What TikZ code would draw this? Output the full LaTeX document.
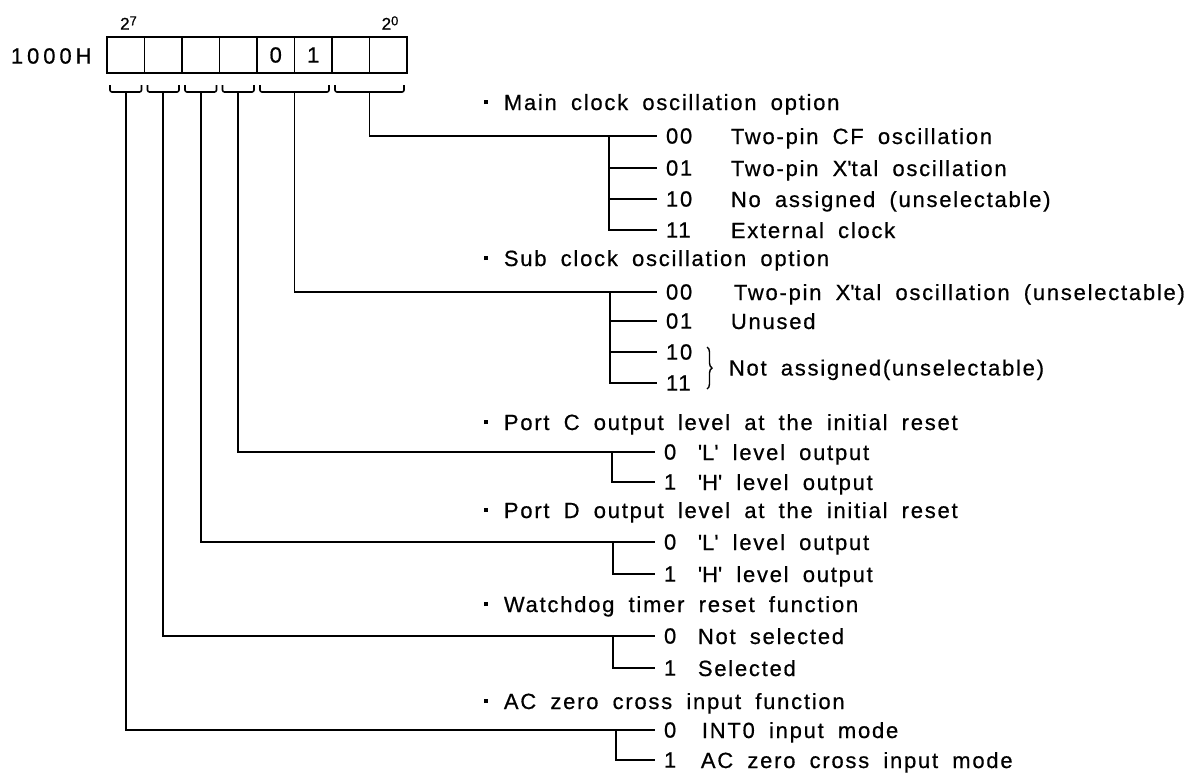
\documentclass[tikz,border=0pt]{standalone}
\usepackage{fontspec}
\setmainfont{Liberation Sans}[LetterSpace=8,WordSpace=1.8,FakeBold=0.6]
\usetikzlibrary{positioning,calc,decorations.pathreplacing}
\newcommand{\optdot}{\makebox[10pt][l]{\raisebox{2.9pt}{\rule{2pt}{2pt}}}}
\newcommand{\apos}{\textquotesingle}
\newcommand{\bitpow}[1]{2\raisebox{2.2pt}{\fontsize{6.5}{7}\selectfont #1}}
\begin{document}
\begin{tikzpicture}[
  x=0.5pt, y=-0.5pt,
  font=\fontsize{11}{13}\selectfont,
  line width=0.9pt,
  cell/.style  ={draw, minimum width=18.75pt, minimum height=18pt, inner sep=0pt, outer sep=0pt},
  weight/.style={font=\fontsize{8.5}{9}\selectfont, inner sep=0pt},
  bits/.style  ={anchor=west, inner xsep=4.5pt, inner ysep=0pt, outer sep=0pt},
  desc/.style  ={anchor=base west, inner sep=0pt},
  opt/.style   ={anchor=base west, inner sep=0pt},
  brk/.style   ={line width=0.8pt, rounded corners=1pt},
]
\useasboundingbox (0,0) rectangle (1198,777);

% register 1000H
\node[anchor=west, inner sep=0pt] (addr) at (10,56) {\addfontfeature{LetterSpace=18}1000H};
\foreach \i/\v in {1/{},2/{},3/{},4/{},5/0,6/1,7/{},8/{}}{
  \node[cell] (c\i) at ({107+37.5*(\i-0.5)},55) {\v};}
\node[weight] (w7) at (128.5,23) {\bitpow{7}};
\node[weight] (w0) at (390,23) {\bitpow{0}};

% bit groups
\foreach \n/\a/\b in {b7/c1/c1,b6/c2/c2,b5/c3/c3,b4/c4/c4,b32/c5/c6,b10/c7/c8}{
  \draw[brk] ([xshift=1.5pt,yshift=-6pt]\a.south west) |- ([xshift=-1.5pt,yshift=-9.5pt]\b.south east)
    -- ([xshift=-1.5pt,yshift=-6pt]\b.south east);
  \coordinate (\n) at ($(\a.south west)!0.5!(\b.south east)+(0,19)$);}

% main clock oscillation option
\node[opt] (tm) at (483,110) {\optdot Main clock oscillation option};
\node[bits] (m00) at (657,136) {00};
\node[bits] (m01) at (657,168) {01};
\node[bits] (m10) at (657,199) {10};
\node[bits] (m11) at (657,230) {11};
\node[desc] (dm00) at (730,144) {Two-pin CF oscillation};
\node[desc] (dm01) at (730,176) {Two-pin X\apos tal oscillation};
\node[desc] (dm10) at (730,207) {No assigned (unselectable)};
\node[desc] (dm11) at (730,238) {External clock};
\coordinate (jm) at (609,136);
\draw (b10) |- (m00);
\foreach \c in {m01,m10,m11}{\draw (jm) |- (\c);}

% sub clock oscillation option
\node[opt] (ts) at (483,266) {\optdot Sub clock oscillation option};
\node[bits] (s00) at (657,292) {00};
\node[bits] (s01) at (657,321) {01};
\node[bits] (s10) at (657,352) {10};
\node[bits] (s11) at (657,383) {11};
\node[desc] (ds00) at (733,300) {Two-pin X\apos tal oscillation (unselectable)};
\node[desc] (ds01) at (730,329) {Unused};
\node[desc] (ds1x) at (728,375.5) {Not assigned(unselectable)};
\draw[decorate, decoration={brace, amplitude=2.5pt}, line width=0.7pt] (707,347) -- (707,389);
\coordinate (js) at (610,292);
\draw (b32) |- (s00);
\foreach \c in {s01,s10,s11}{\draw (js) |- (\c);}

% port C
\node[opt] (tc) at (483,430) {\optdot Port C output level at the initial reset};
\node[bits] (pc0) at (655,452) {0};
\node[bits] (pc1) at (655,482) {1};
\node[desc] (dc0) at (697,460) {\apos L\apos{} level output};
\node[desc] (dc1) at (697,490) {\apos H\apos{} level output};
\coordinate (jc) at (612,452);
\draw (b4) |- (pc0);
\draw (jc) |- (pc1);

% port D
\node[opt] (td) at (483,518) {\optdot Port D output level at the initial reset};
\node[bits] (pd0) at (655,542) {0};
\node[bits] (pd1) at (655,574) {1};
\node[desc] (dd0) at (697,550) {\apos L\apos{} level output};
\node[desc] (dd1) at (697,582) {\apos H\apos{} level output};
\coordinate (jd) at (613,542);
\draw (b5) |- (pd0);
\draw (jd) |- (pd1);

% watchdog timer
\node[opt] (tw) at (483,612) {\optdot Watchdog timer reset function};
\node[bits] (wd0) at (655,636) {0};
\node[bits] (wd1) at (655,668) {1};
\node[desc] (dw0) at (697,644) {Not selected};
\node[desc] (dw1) at (697,676) {Selected};
\coordinate (jw) at (613,636);
\draw (b6) |- (wd0);
\draw (jw) |- (wd1);

% AC zero cross
\node[opt] (ta) at (483,709) {\optdot AC zero cross input function};
\node[bits] (ac0) at (655,730) {0};
\node[bits] (ac1) at (655,760) {1};
\node[desc] (da0) at (701,738) {INT0 input mode};
\node[desc] (da1) at (700,768) {AC zero cross input mode};
\coordinate (ja) at (616,730);
\draw (b7) |- (ac0);
\draw (ja) |- (ac1);
\end{tikzpicture}
\end{document}
